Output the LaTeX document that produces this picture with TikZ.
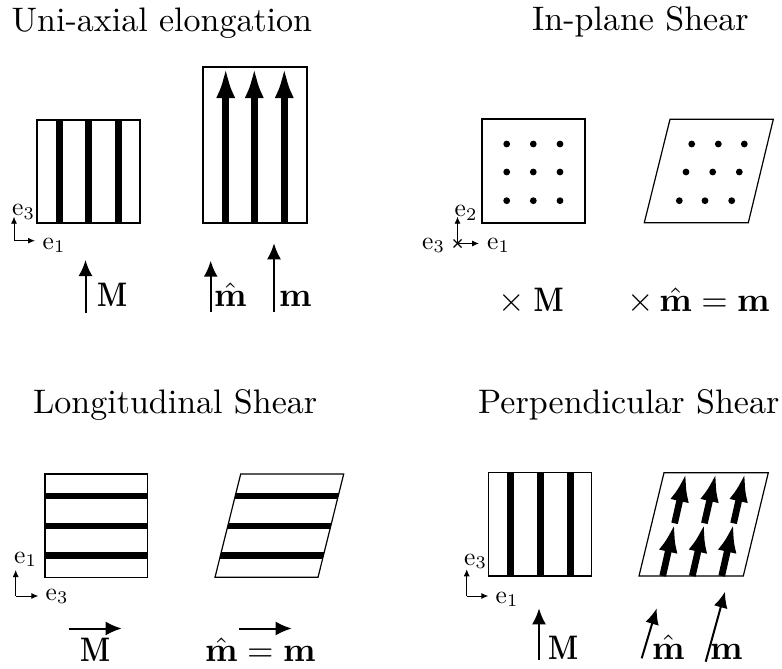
\documentclass[tikz,border=0pt]{standalone}
\usetikzlibrary{arrows.meta,calc}
\font\ttlfont="[lmroman10-regular]:+tlig;" at 34pt
\newcommand{\BL}[1]{\scalebox{3.4}{$#1$}}
\newcommand{\BMM}{\scalebox{2.75}[3.4]{$\mathbf{M}$}}
\newcommand{\EL}[1]{\scalebox{2.55}{$#1$}}
\begin{document}
\begin{tikzpicture}[x=1pt,y=-1pt,
  box/.style={line width=1.2pt},
  fiber/.style={line width=6.7pt},
  fiberhead/.style={line width=6.7pt,-{Latex[length=31pt,width=19pt]}},
  fiberhead2/.style={line width=6.7pt,-{Latex[length=29pt,width=19pt]}},
  vec/.style={line width=2pt,-{Latex[length=16pt,width=14pt]}},
  axis/.style={line width=0.9pt,-{Latex[length=7pt,width=6pt]}},
  title/.style={inner sep=0pt,anchor=base west,font=\ttlfont},
  lab/.style={inner sep=0pt,anchor=base west},
  elab/.style={inner sep=0pt,anchor=base west}
]
\useasboundingbox (0,0) rectangle (782,669);

% ---------- titles ----------
\node[title] (t1) at (11.5,31.5) {Uni-axial elongation};
\node[title] (t2) at (532,31) {In-plane Shear};
\node[title] (t3) at (33,413) {Longitudinal Shear};
\node[title] (t4) at (478,413) {Perpendicular Shear};

% ---------- Uni-axial elongation ----------
\draw[box] (37,120) rectangle (140,223);
\foreach \x in {59.3,88.3,118.3} \draw[fiber] (\x,120) -- (\x,223);
\draw[box] (203,67) rectangle (307,223);
\foreach \x in {225.7,254.3,284.3} \draw[fiberhead] (\x,223) -- (\x,67);

\coordinate (o1) at (14,240.7);
\coordinate (o1u) at (14,216.7);
\coordinate (o1r) at (35,240.7);
\draw[axis] (o1) -- (o1u);
\draw[axis] (o1) -- (o1r);
\node[elab] (e13) at (12,215.5) {\EL{\mathrm{e}_3}};
\node[elab] (e11) at (42.5,249) {\EL{\mathrm{e}_1}};

\coordinate (a1s) at (85.5,313); \coordinate (a1t) at (85.5,260);
\draw[vec] (a1s) -- (a1t);
\node[lab] (l1M) at (97,306.7) {\BMM};
\coordinate (a2s) at (210.7,311.7); \coordinate (a2t) at (210.7,260.7);
\draw[vec] (a2s) -- (a2t);
\node[lab] (l1mh) at (214,306.7) {\BL{\hat{\mathbf{m}}}};
\coordinate (a3s) at (274,311.7); \coordinate (a3t) at (274,243.3);
\draw[vec] (a3s) -- (a3t);
\node[lab] (l1m) at (279,306.7) {\BL{\mathbf{m}}};

% ---------- In-plane shear ----------
\draw[box] (482,119) rectangle (585,223);
\foreach \x in {506.7,533.3,560}
  \foreach \y in {144,172,200.7}
    \fill (\x,\y) circle (3.4pt);
\draw[box] (644.3,222.7) -- (670,119.3) -- (773.3,119.3) -- (748.3,222.7) -- cycle;
\foreach \x in {691.7,718.3,744.3} \fill (\x,144) circle (3.4pt);
\foreach \x in {686,712.7,739.3} \fill (\x,172) circle (3.4pt);
\foreach \x in {679.3,705,731.7} \fill (\x,200.7) circle (3.4pt);

\coordinate (o2) at (457.5,243.5);
\coordinate (o2u) at (457.5,216.7);
\coordinate (o2r) at (479,243.5);
\draw[axis] (o2) -- (o2u);
\draw[axis] (o2) -- (o2r);
\draw[line width=1.4pt] ($(o2)+(-4,-4)$) -- ($(o2)+(4,4)$);
\draw[line width=1.4pt] ($(o2)+(-4,4)$) -- ($(o2)+(4,-4)$);
\node[elab] (e22) at (454.5,216.5) {\EL{\mathrm{e}_2}};
\node[elab] (e23) at (422,249) {\EL{\mathrm{e}_3}};
\node[elab] (e21) at (487,249) {\EL{\mathrm{e}_1}};

\node[lab] (l2a) at (498,311.7) {\BL{\times}\hspace{9pt}\BMM};
\node[lab] (l2b) at (627,311.7) {\BL{{\times}\,\hat{\mathbf{m}}=\mathbf{m}}};

% ---------- Longitudinal shear ----------
\draw[box] (45,474) rectangle (147.7,577.3);
\foreach \y in {496,526,555.3} \draw[fiber] (45,\y) -- (147.7,\y);
\begin{scope}
  \clip (215,577.3) -- (240.7,474) -- (343.7,474) -- (318,577.3) -- cycle;
  \draw[fiber] (234,496) -- (340,496);
  \draw[fiber] (226,526) -- (332,526);
  \draw[fiber] (219,555.3) -- (325,555.3);
\end{scope}
\draw[box] (215,577.3) -- (240.7,474) -- (343.7,474) -- (318,577.3) -- cycle;

\coordinate (o3) at (15.7,596);
\coordinate (o3u) at (15.7,570);
\coordinate (o3r) at (38.3,596);
\draw[axis] (o3) -- (o3u);
\draw[axis] (o3) -- (o3r);
\node[elab] (e31) at (14,563) {\EL{\mathrm{e}_1}};
\node[elab] (e33) at (45.5,600) {\EL{\mathrm{e}_3}};

\coordinate (b1s) at (69.3,628.5); \coordinate (b1t) at (121.7,628.5);
\draw[vec] (b1s) -- (b1t);
\node[lab] (l3M) at (80,661.7) {\BMM};
\coordinate (b2s) at (239.3,628.5); \coordinate (b2t) at (291.7,628.5);
\draw[vec] (b2s) -- (b2t);
\node[lab] (l3m) at (205,661.7) {\BL{\hat{\mathbf{m}}=\mathbf{m}}};

% ---------- Perpendicular shear ----------
\draw[box] (488.3,472.7) rectangle (591.7,576);
\foreach \x in {510.3,540.3,570.3} \draw[fiber] (\x,472.7) -- (\x,576);
\draw[box] (639,576) -- (664,472.7) -- (768.3,472.7) -- (743.3,576) -- cycle;
\foreach \xb/\xt [count=\i] in {662.7/686,692.3/716,721.7/745}{
  \coordinate (pb\i) at (\xb,576);
  \coordinate (pt\i) at (\xt,472.7);
  \coordinate (pm\i) at ($(pb\i)!0.51!(pt\i)$);
  \draw[fiberhead2] (pb\i) -- (pm\i);
  \draw[fiberhead2] (pm\i) -- (pt\i);
}

\coordinate (o4) at (466.7,596);
\coordinate (o4u) at (466.7,569.3);
\coordinate (o4r) at (488.3,596);
\draw[axis] (o4) -- (o4u);
\draw[axis] (o4) -- (o4r);
\node[elab] (e43) at (464,565) {\EL{\mathrm{e}_3}};
\node[elab] (e41) at (495.5,603) {\EL{\mathrm{e}_1}};

\coordinate (c1s) at (539,660); \coordinate (c1t) at (539,608.3);
\draw[vec] (c1s) -- (c1t);
\node[lab] (l4M) at (548,659) {\BMM};
\coordinate (c2s) at (641.7,658.3); \coordinate (c2t) at (656.7,608.3);
\draw[vec] (c2s) -- (c2t);
\node[lab] (l4mh) at (652,659) {\BL{\hat{\mathbf{m}}}};
\coordinate (c3s) at (705.7,661.7); \coordinate (c3t) at (725,591.7);
\draw[vec] (c3s) -- (c3t);
\node[lab] (l4m) at (710,659) {\BL{\mathbf{m}}};
\end{tikzpicture}
\end{document}
